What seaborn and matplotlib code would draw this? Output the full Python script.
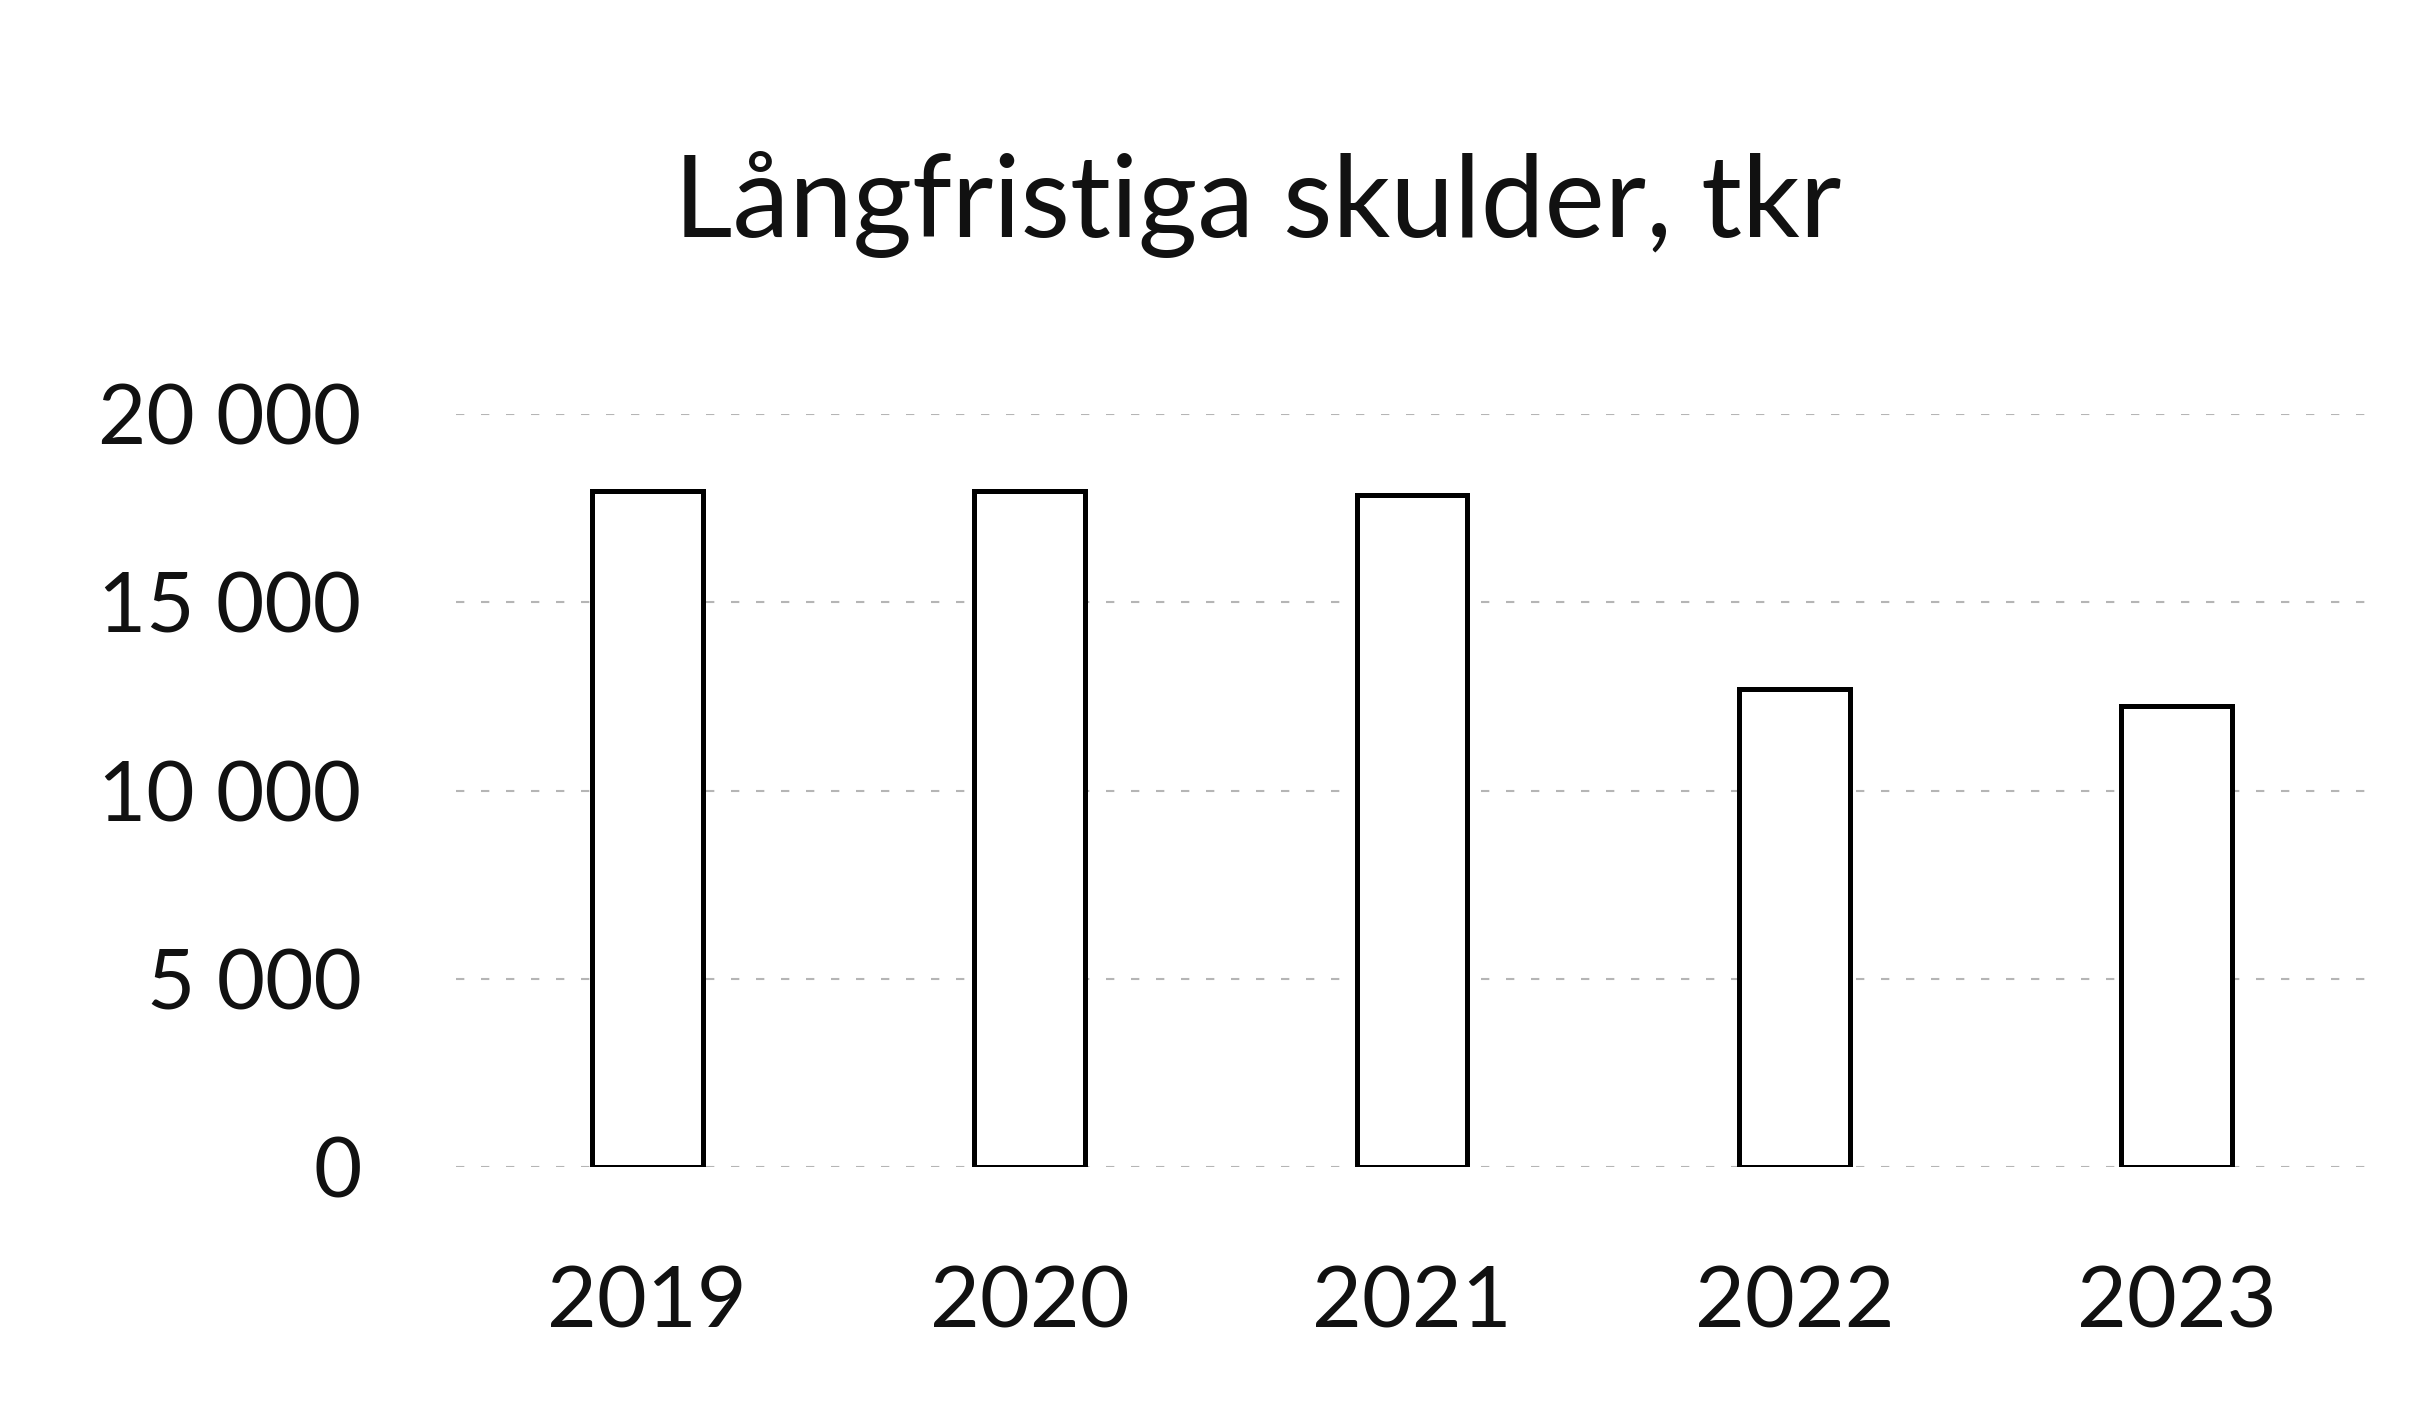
import matplotlib
matplotlib.use("Agg")
import matplotlib.pyplot as plt
from matplotlib.ticker import FuncFormatter, MultipleLocator
import seaborn as sns
import pandas as pd

years = ["2019", "2020", "2021", "2022", "2023"]
values = [17950, 17950, 17850, 12700, 12250]
title = "Långfristiga skulder, tkr"

sns.set_theme(style="white")
plt.rcParams["font.family"] = ["Lato", "DejaVu Sans"]

df = pd.DataFrame({"year": years, "value": values})

fig = plt.figure(figsize=(24.33, 14.02), dpi=100)
ax = fig.add_axes([0.1874, 0.1676, 0.9733 - 0.1874, 0.7047 - 0.1676])

ax.yaxis.grid(True, color="#b5b5b5", linestyle=(0, (4, 8)), linewidth=1.5)
ax.set_axisbelow(True)

sns.barplot(data=df, x="year", y="value", ax=ax, width=0.29,
            color="white", edgecolor="black", linewidth=3.6, zorder=3)

ax.set_ylim(0, 20000)
ax.set_xlim(-0.5, 4.5)
ax.yaxis.set_major_locator(MultipleLocator(5000))
ax.yaxis.set_major_formatter(FuncFormatter(lambda v, p: f"{int(v):,}".replace(",", " ")))
ax.set_xlabel("")
ax.set_ylabel("")
for s in ax.spines.values():
    s.set_visible(False)
ax.tick_params(axis="y", length=0, pad=68, labelsize=60, colors="#111111")
ax.tick_params(axis="x", length=0, pad=70, labelsize=62, colors="#111111")

fig.text(0.517, 0.854, title, ha="center", va="center", fontsize=82, color="#111111")

fig.savefig("out.png", dpi=100, facecolor="white")
